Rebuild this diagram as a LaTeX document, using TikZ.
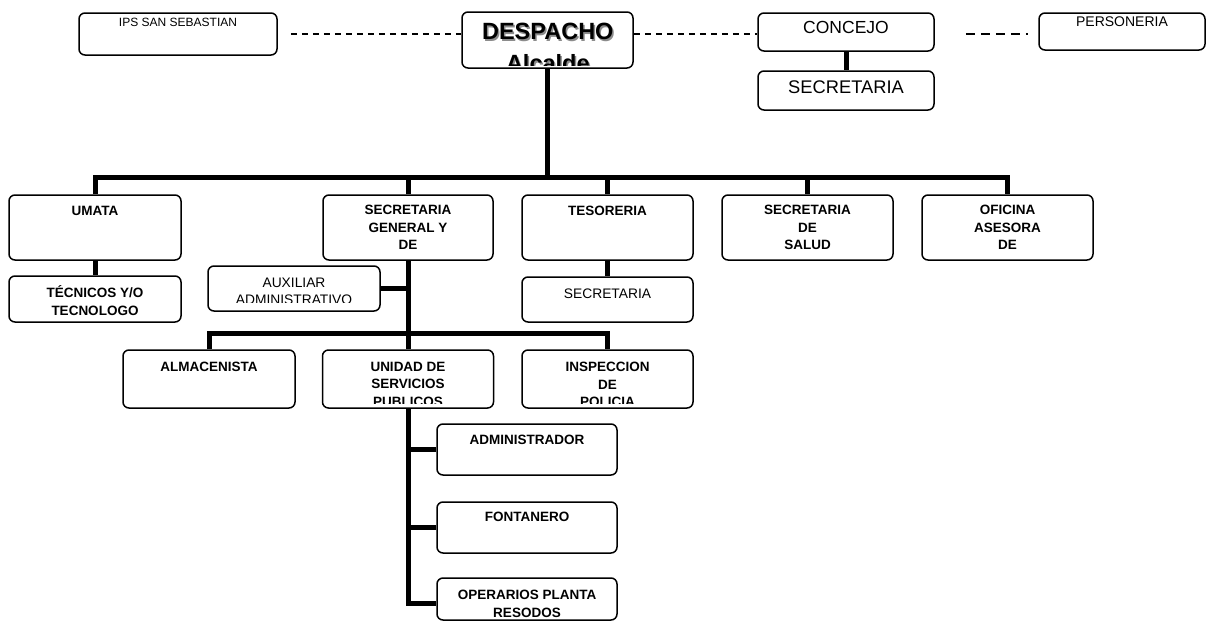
\documentclass[tikz,border=0pt]{standalone}
\usepackage{fontspec}
\setmainfont{Liberation Sans}
\begin{document}
\begin{tikzpicture}[x=1pt,y=-1pt]
\tikzset{
 box/.style={draw=black, line width=1.5pt, rounded corners=6pt, fill=white, inner sep=0pt},
 conn/.style={line width=5pt},
 thindash/.style={line width=1.2pt, dash pattern=on 6pt off 5pt},
 thickdash/.style={line width=2.6pt, dash pattern=on 9pt off 6pt},
 bt/.style={font=\fontsize{13.5}{17.5}\selectfont\bfseries, align=center, inner sep=0pt, anchor=north},
 rt/.style={font=\fontsize{13.8}{17}\selectfont, align=center, inner sep=0pt, anchor=north},
}
\useasboundingbox (0,0) rectangle (1215,627);
\fill[white] (0,0) rectangle (1215,627);
% coordinates for connector levels
\coordinate (dy) at (0,34);
\coordinate (tb) at (0,177.5);
\coordinate (lb) at (0,333);
% top row boxes
\node[box, minimum width=198pt, minimum height=42pt] (ips) at (178,34) {};
\node[box, minimum width=171pt, minimum height=56pt] (desp) at (547.5,40) {};
\node[box, minimum width=176pt, minimum height=38pt] (conc) at (846,32) {};
\node[box, minimum width=176pt, minimum height=39pt] (csec) at (846,90.5) {};
\node[box, minimum width=166pt, minimum height=37pt] (pers) at (1122,31.5) {};
% second row
\node[box, minimum width=172pt, minimum height=65pt] (umata) at (95,227.5) {};
\node[box, minimum width=172pt, minimum height=46pt] (tec) at (95,299) {};
\node[box, minimum width=170pt, minimum height=65pt] (sg) at (408,227.5) {};
\node[box, minimum width=171pt, minimum height=65pt] (tes) at (607.5,227.5) {};
\node[box, minimum width=171pt, minimum height=45pt] (tsec) at (607.5,299.5) {};
\node[box, minimum width=171pt, minimum height=65pt] (sal) at (807.5,227.5) {};
\node[box, minimum width=171pt, minimum height=65pt] (ofi) at (1007.5,227.5) {};
\node[box, minimum width=172pt, minimum height=45pt] (aux) at (294,288.5) {};
% third row
\node[box, minimum width=172pt, minimum height=58pt] (alm) at (209,379) {};
\node[box, minimum width=171pt, minimum height=58pt] (uni) at (408,379) {};
\node[box, minimum width=171pt, minimum height=58pt] (ins) at (607.5,379) {};
% fourth column
\node[box, minimum width=180pt, minimum height=51pt] (adm) at (527,449.5) {};
\node[box, minimum width=180pt, minimum height=51pt] (fon) at (527,527.5) {};
\node[box, minimum width=180pt, minimum height=42pt] (ope) at (527,599) {};
% dashed links
\draw[thindash, shorten <=13pt] (ips.east |- dy) -- (desp.west |- dy);
\draw[thindash] (desp.east |- dy) -- (conc.west |- dy);
\draw[thickdash, shorten <=31pt, shorten >=10pt] (conc.east |- dy) -- (pers.west |- dy);
% solid connectors
\draw[conn] (conc.south) -- (csec.north);
\draw[conn] (desp.south) -- (desp.south |- tb);
\draw[conn] (umata.north) |- (ofi.north |- tb) -- (ofi.north);
\draw[conn] (sg.north) -- (sg.north |- tb);
\draw[conn] (tes.north) -- (tes.north |- tb);
\draw[conn] (sal.north) -- (sal.north |- tb);
\draw[conn] (umata.south) -- (tec.north);
\draw[conn] (tes.south) -- (tsec.north);
\draw[conn] (sg.south) -- (uni.north);
\draw[conn] (aux.east) -- (aux.east -| sg.south);
\draw[conn] (alm.north) |- (ins.north |- lb) -- (ins.north);
\draw[conn] (uni.south) |- ([yshift=-4pt]ope.west);
\draw[conn] (adm.west) -- (adm.west -| uni.south);
\draw[conn] (fon.west) -- (fon.west -| uni.south);
% texts
\node[rt, font=\fontsize{12}{14}\selectfont] (tips) at (178,18) {IPS SAN SEBASTIAN};
\begin{scope}
\clip (463,13) rectangle (632,65);
\node[inner sep=0pt, anchor=north, align=center, text=black!45, font=\fontsize{23.5}{31.7}\selectfont\bfseries] (tdesps) at (549.3,25) {DESPACHO\\Alcalde};
\node[inner sep=0pt, anchor=north, align=center, font=\fontsize{23.5}{31.7}\selectfont\bfseries] (tdesp) at (547.8,23.3) {DESPACHO\\Alcalde};
\end{scope}
\node[rt, font=\fontsize{17.5}{20}\selectfont] (tconc) at (846,21) {CONCEJO};
\node[rt, font=\fontsize{18.3}{21}\selectfont] (tcsec) at (846,80.5) {SECRETARIA};
\node[rt, font=\fontsize{14}{16}\selectfont] (tpers) at (1122,17) {PERSONERIA};
\node[bt] (tumata) at (95,206) {UMATA};
\node[bt] (ttec) at (95,285.5) {TÉCNICOS Y/O\\TECNOLOGO};
\node[bt] (tsg) at (408,205) {SECRETARIA\\GENERAL Y\\DE};
\node[bt] (ttes) at (607.5,206) {TESORERIA};
\node[rt] (ttsec) at (607.5,289) {SECRETARIA};
\node[bt] (tsal) at (807.5,205) {SECRETARIA\\DE\\SALUD};
\node[bt] (tofi) at (1007.5,205) {OFICINA\\ASESORA\\DE};
\begin{scope}
\clip (209,267) rectangle (379,302);
\node[rt] (taux) at (294,278) {AUXILIAR\\ADMINISTRATIVO};
\end{scope}
\node[bt] (talm) at (209,362) {ALMACENISTA};
\begin{scope}
\clip (324,351) rectangle (493,403.3);
\node[bt] (tuni) at (408,362) {UNIDAD DE\\SERVICIOS\\PUBLICOS};
\end{scope}
\begin{scope}
\clip (523,351) rectangle (692,403.3);
\node[bt] (tins) at (607.5,362) {INSPECCION\\DE\\POLICIA};
\end{scope}
\node[bt] (tadm) at (527,435) {ADMINISTRADOR};
\node[bt] (tfon) at (527,512) {FONTANERO};
\node[bt] (tope) at (527,590) {OPERARIOS PLANTA\\RESODOS};
\end{tikzpicture}
\end{document}
